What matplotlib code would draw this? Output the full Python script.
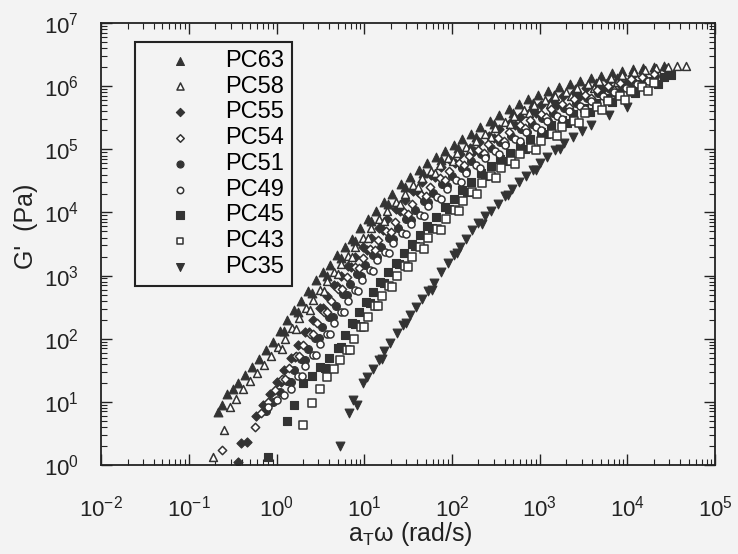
import numpy as np
import matplotlib
matplotlib.use('Agg')
import matplotlib.pyplot as plt
from matplotlib.ticker import LogLocator, NullFormatter, FixedLocator

plt.rcParams['font.family'] = ['Liberation Sans', 'DejaVu Sans']
plt.rcParams['mathtext.fontset'] = 'custom'
plt.rcParams['mathtext.rm'] = 'Liberation Sans'
plt.rcParams['mathtext.it'] = 'Liberation Sans'

# values, stored as log10(a_T w) and log10(G')
# second part of each list = the points of the overlapping sweeps sitting just under the main trace
pc63_lw = [-0.67, -0.62, -0.57, -0.5, -0.44, -0.36, -0.28, -0.2, -0.12, -0.04, 0.04, 0.12, 0.2, 0.28,
           0.36, 0.45, 0.53, 0.61, 0.69, 0.78, 0.86, 0.95, 1.04, 1.13, 1.22, 1.32, 1.42, 1.52, 1.62,
           1.72, 1.82, 1.92, 2.02, 2.12, 2.22, 2.32, 2.43, 2.54, 2.65, 2.76, 2.87, 2.98, 3.1, 3.22,
           3.34, 3.46, 3.58, 3.7, 3.82, 3.94, 4.06, 4.18, 4.3, 4.42,
           0.08, 0.24, 0.4, 0.57, 0.73, 0.9, 1.08, 1.27, 1.47, 1.67, 1.87, 2.07, 2.27, 2.48, 2.7,
           2.92, 3.16, 3.4, 3.64, 3.88]
pc63_lg = [0.84, 0.95, 1.12, 1.2, 1.3, 1.42, 1.55, 1.68, 1.82, 1.95, 2.12, 2.3, 2.45, 2.6,
           2.75, 2.93, 3.05, 3.17, 3.32, 3.46, 3.58, 3.75, 3.9, 4.03, 4.16, 4.3, 4.45, 4.57, 4.68,
           4.78, 4.88, 4.98, 5.07, 5.16, 5.25, 5.35, 5.45, 5.55, 5.64, 5.72, 5.8, 5.87, 5.93, 5.99,
           6.04, 6.08, 6.13, 6.17, 6.21, 6.24, 6.27, 6.29, 6.31, 6.33,
           2.12, 2.43, 2.73, 3.0, 3.28, 3.55, 3.86, 4.13, 4.41, 4.63, 4.83, 5.02, 5.2, 5.4, 5.58,
           5.74, 5.86, 5.96, 6.05, 6.13]

pc58_lw = [-0.72, -0.6, -0.53, -0.46, -0.38, -0.3, -0.22, -0.14, -0.06, 0.02, 0.1, 0.18, 0.26, 0.34,
           0.42, 0.5, 0.58, 0.66, 0.74, 0.82, 0.9, 0.99, 1.08, 1.17, 1.26, 1.36, 1.46, 1.56, 1.66,
           1.76, 1.86, 1.96, 2.06, 2.16, 2.27, 2.38, 2.49, 2.6, 2.71, 2.82, 2.94, 3.06, 3.18, 3.3,
           3.42, 3.55, 3.68, 3.81, 3.94, 4.07, 4.2, 4.33, 4.46, 4.57, 4.67,
           0.06, 0.22, 0.38, 0.54, 0.7, 0.86, 1.04, 1.22, 1.41, 1.61, 1.81, 2.01, 2.21, 2.44, 2.66,
           2.88, 3.12, 3.36, 3.62, 3.88]
pc58_lg = [0.12, 0.55, 0.92, 1.05, 1.2, 1.33, 1.45, 1.58, 1.72, 1.86, 2.0, 2.17, 2.33, 2.48,
           2.62, 2.77, 2.92, 3.05, 3.18, 3.31, 3.45, 3.6, 3.75, 3.89, 4.02, 4.16, 4.3, 4.43, 4.55,
           4.66, 4.76, 4.86, 4.95, 5.04, 5.14, 5.24, 5.34, 5.44, 5.53, 5.62, 5.7, 5.78, 5.85, 5.91,
           5.97, 6.03, 6.08, 6.13, 6.18, 6.22, 6.26, 6.29, 6.31, 6.32, 6.33,
           1.84, 2.16, 2.46, 2.76, 3.03, 3.29, 3.59, 3.87, 4.14, 4.4, 4.62, 4.81, 4.99, 5.2, 5.4,
           5.57, 5.72, 5.85, 5.97, 6.07]

pc55_lw = [-0.44, -0.4, -0.34, -0.23, -0.15, -0.07, 0.01, 0.09, 0.17, 0.25, 0.33, 0.41, 0.49, 0.57,
           0.65, 0.73, 0.81, 0.9, 0.99, 1.08, 1.17, 1.26, 1.36, 1.46, 1.56, 1.66, 1.76, 1.87, 1.98,
           2.09, 2.2, 2.31, 2.42, 2.54, 2.66, 2.78, 2.9, 3.02, 3.14, 3.27, 3.4, 3.53, 3.66, 3.79,
           3.92, 4.05, 4.18, 4.31, 4.44,
           0.05, 0.21, 0.37, 0.53, 0.69, 0.85, 1.03, 1.21, 1.41, 1.61, 1.81, 2.03, 2.25, 2.48, 2.72,
           2.96, 3.2, 3.46, 3.72, 3.98]
pc55_lg = [0.04, 0.34, 0.36, 0.77, 0.95, 1.13, 1.32, 1.5, 1.7, 1.9, 2.1, 2.3, 2.48, 2.67,
           2.85, 3.0, 3.15, 3.3, 3.45, 3.6, 3.75, 3.9, 4.05, 4.2, 4.34, 4.48, 4.6, 4.72, 4.83,
           4.93, 5.02, 5.12, 5.22, 5.32, 5.42, 5.52, 5.61, 5.7, 5.77, 5.84, 5.91, 5.97, 6.03, 6.08,
           6.13, 6.17, 6.21, 6.24, 6.27,
           1.32, 1.71, 2.11, 2.49, 2.84, 3.13, 3.41, 3.73, 4.03, 4.32, 4.57, 4.78, 4.97, 5.18, 5.38,
           5.57, 5.71, 5.85, 5.96, 6.06]

pc54_lw = [-0.62, -0.25, -0.18, -0.1, -0.02, 0.06, 0.14, 0.22, 0.3, 0.38, 0.46, 0.54, 0.62, 0.7,
           0.8, 0.89, 0.98, 1.07, 1.16, 1.25, 1.35, 1.45, 1.55, 1.65, 1.75, 1.86, 1.97, 2.08, 2.19,
           2.3, 2.41, 2.53, 2.65, 2.77, 2.89, 3.01, 3.13, 3.26, 3.39, 3.52, 3.65, 3.78, 3.91, 4.04,
           4.17, 4.3,
           0.1, 0.26, 0.42, 0.58, 0.75, 0.94, 1.12, 1.3, 1.5, 1.7, 1.92, 2.14, 2.36, 2.59, 2.83,
           3.07, 3.33, 3.59, 3.85, 4.1]
pc54_lg = [0.23, 0.6, 0.82, 1.0, 1.18, 1.36, 1.54, 1.72, 1.9, 2.08, 2.25, 2.42, 2.6, 2.78,
           2.98, 3.13, 3.28, 3.42, 3.56, 3.7, 3.85, 4.0, 4.14, 4.28, 4.41, 4.54, 4.66, 4.78, 4.89,
           4.99, 5.08, 5.18, 5.28, 5.38, 5.47, 5.56, 5.64, 5.72, 5.8, 5.87, 5.94, 6.0, 6.06, 6.11,
           6.15, 6.19,
           1.36, 1.72, 2.08, 2.42, 2.79, 3.12, 3.41, 3.69, 3.98, 4.26, 4.51, 4.75, 4.95, 5.14, 5.34,
           5.51, 5.67, 5.82, 5.94, 6.04]

pc51_lw = [-0.12, -0.04, 0.04, 0.12, 0.2, 0.28, 0.36, 0.44, 0.52, 0.6, 0.68, 0.76, 0.84, 0.92,
           1.01, 1.1, 1.19, 1.28, 1.38, 1.48, 1.58, 1.68, 1.78, 1.89, 2.0, 2.11, 2.22, 2.33, 2.44,
           2.55, 2.67, 2.79, 2.91, 3.03, 3.15, 3.28, 3.41, 3.54, 3.67, 3.8, 3.93, 4.06, 4.19, 4.32,
           0.16, 0.32, 0.48, 0.64, 0.8, 0.96, 1.14, 1.33, 1.53, 1.73, 1.94, 2.16, 2.38, 2.61, 2.85,
           3.09, 3.34, 3.6, 3.86, 4.12]
pc51_lg = [0.85, 1.0, 1.16, 1.33, 1.5, 1.67, 1.84, 2.01, 2.18, 2.35, 2.52, 2.7, 2.87, 3.02,
           3.17, 3.32, 3.46, 3.6, 3.75, 3.9, 4.04, 4.18, 4.31, 4.45, 4.58, 4.7, 4.82, 4.93, 5.03,
           5.12, 5.22, 5.32, 5.41, 5.5, 5.58, 5.66, 5.74, 5.82, 5.89, 5.96, 6.02, 6.07, 6.12, 6.16,
           1.32, 1.66, 2.01, 2.35, 2.69, 3.0, 3.29, 3.58, 3.88, 4.16, 4.42, 4.66, 4.89, 5.08, 5.27,
           5.45, 5.61, 5.76, 5.9, 6.0]

pc49_lw = [-0.1, 0.0, 0.08, 0.17, 0.25, 0.33, 0.41, 0.49, 0.57, 0.65, 0.73, 0.81, 0.89, 0.97,
           1.06, 1.15, 1.24, 1.33, 1.43, 1.53, 1.63, 1.73, 1.83, 1.94, 2.05, 2.16, 2.27, 2.38, 2.49,
           2.6, 2.72, 2.84, 2.96, 3.08, 3.2, 3.33, 3.46, 3.59, 3.72, 3.85, 3.98, 4.11, 4.24,
           0.29, 0.45, 0.61, 0.77, 0.93, 1.1, 1.28, 1.48, 1.68, 1.88, 2.1, 2.32, 2.54, 2.78, 3.02,
           3.26, 3.52, 3.78, 4.04]
pc49_lg = [0.92, 1.02, 1.1, 1.2, 1.4, 1.57, 1.74, 1.91, 2.08, 2.25, 2.42, 2.6, 2.77, 2.93,
           3.09, 3.24, 3.38, 3.52, 3.67, 3.82, 3.96, 4.1, 4.24, 4.38, 4.51, 4.63, 4.75, 4.86, 4.97,
           5.07, 5.17, 5.27, 5.36, 5.45, 5.53, 5.61, 5.69, 5.77, 5.84, 5.91, 5.97, 6.03, 6.08,
           1.4, 1.74, 2.08, 2.42, 2.76, 3.08, 3.35, 3.66, 3.94, 4.22, 4.48, 4.71, 4.92, 5.13, 5.31,
           5.48, 5.64, 5.78, 5.91]

pc45_lw = [-0.1, 0.12, 0.2, 0.3, 0.4, 0.5, 0.6, 0.7, 0.78, 0.86, 0.94, 1.02, 1.1, 1.18,
           1.27, 1.36, 1.45, 1.54, 1.63, 1.72, 1.82, 1.92, 2.02, 2.12, 2.22, 2.33, 2.44, 2.55, 2.66,
           2.77, 2.89, 3.01, 3.13, 3.25, 3.38, 3.51, 3.64, 3.77, 3.9, 4.03, 4.16, 4.29, 4.42, 4.5,
           0.55, 0.74, 0.9, 1.06, 1.22, 1.4, 1.58, 1.77, 1.97, 2.17, 2.38, 2.6, 2.83, 3.07, 3.31,
           3.57, 3.83, 4.09, 4.35]
pc45_lg = [0.12, 0.7, 0.95, 1.3, 1.4, 1.55, 1.7, 1.85, 2.05, 2.25, 2.42, 2.58, 2.74, 2.9,
           3.05, 3.2, 3.35, 3.5, 3.64, 3.78, 3.93, 4.08, 4.22, 4.36, 4.49, 4.62, 4.74, 4.85, 4.95,
           5.05, 5.16, 5.28, 5.38, 5.47, 5.56, 5.65, 5.73, 5.81, 5.89, 5.96, 6.03, 6.09, 6.15, 6.18,
           1.53, 1.86, 2.24, 2.57, 2.88, 3.18, 3.47, 3.76, 4.06, 4.33, 4.58, 4.81, 5.01, 5.24, 5.42,
           5.6, 5.75, 5.9, 6.03]

pc43_lw = [0.3, 0.4, 0.5, 0.57, 0.65, 0.72, 0.8, 0.88, 0.96, 1.04, 1.12, 1.2, 1.28, 1.37,
           1.46, 1.55, 1.64, 1.73, 1.83, 1.93, 2.03, 2.13, 2.23, 2.34, 2.45, 2.56, 2.67, 2.78, 2.9,
           3.02, 3.14, 3.26, 3.39, 3.52, 3.65, 3.78, 3.91, 4.04, 4.17, 4.3,
           0.84, 1.0, 1.16, 1.32, 1.5, 1.68, 1.88, 2.08, 2.28, 2.5, 2.72, 2.96, 3.2, 3.45, 3.71,
           3.97, 4.23]
pc43_lg = [0.63, 0.98, 1.2, 1.39, 1.52, 1.66, 1.82, 2.0, 2.18, 2.35, 2.52, 2.68, 2.84, 3.0,
           3.15, 3.3, 3.45, 3.59, 3.74, 3.89, 4.04, 4.18, 4.32, 4.46, 4.58, 4.7, 4.81, 4.92, 5.03,
           5.14, 5.25, 5.35, 5.45, 5.58, 5.68, 5.76, 5.84, 5.92, 5.99, 6.05,
           1.82, 2.18, 2.51, 2.82, 3.13, 3.42, 3.72, 4.02, 4.3, 4.54, 4.77, 4.99, 5.21, 5.42, 5.63,
           5.79, 5.93]

pc35_lw = [0.72, 0.83, 0.87, 0.92, 0.98, 1.03, 1.1, 1.17, 1.23, 1.29, 1.37, 1.44, 1.52, 1.59,
           1.66, 1.73, 1.8, 1.88, 1.95, 2.02, 2.09, 2.16, 2.23, 2.3, 2.38, 2.45, 2.52, 2.6, 2.68,
           2.76, 2.84, 2.92, 3.0, 3.08, 3.18, 3.28, 3.38, 3.48, 3.59, 3.79, 4.0,
           1.2, 1.48, 1.77, 2.06, 2.34, 2.64, 2.96, 3.23]
pc35_lg = [0.3, 0.82, 1.02, 0.95, 1.29, 1.39, 1.52, 1.66, 1.8, 1.93, 2.09, 2.22, 2.37, 2.5,
           2.63, 2.75, 2.88, 3.06, 3.2, 3.33, 3.46, 3.58, 3.72, 3.83, 3.94, 4.03, 4.14, 4.26, 4.38,
           4.48, 4.58, 4.68, 4.78, 4.88, 4.99, 5.1, 5.2, 5.29, 5.38, 5.54, 5.68,
           1.68, 2.25, 2.77, 3.35, 3.82, 4.27, 4.68, 5.0]

x_ticks = [1e-2, 1e-1, 1e0, 1e1, 1e2, 1e3, 1e4, 1e5]
y_ticks = [1e0, 1e1, 1e2, 1e3, 1e4, 1e5, 1e6, 1e7]

ink = '#333333'
bg = '#f3f3f3'
series = [
    ('PC63', pc63_lw, pc63_lg, '^', True, 40),
    ('PC58', pc58_lw, pc58_lg, '^', False, 32),
    ('PC55', pc55_lw, pc55_lg, 'D', True, 22),
    ('PC54', pc54_lw, pc54_lg, 'D', False, 18),
    ('PC51', pc51_lw, pc51_lg, 'o', True, 32),
    ('PC49', pc49_lw, pc49_lg, 'o', False, 26),
    ('PC45', pc45_lw, pc45_lg, 's', True, 32),
    ('PC43', pc43_lw, pc43_lg, 's', False, 26),
    ('PC35', pc35_lw, pc35_lg, 'v', True, 40),
]

fig = plt.figure(figsize=(7.38, 5.54), dpi=100, facecolor=bg)
ax = fig.add_axes([0.137, 0.161, 0.832, 0.797])
ax.set_facecolor(bg)

for name, lw, lg, mk, filled, sz in series:
    x = np.power(10.0, lw)
    y = np.power(10.0, lg)
    if filled:
        ax.scatter(x, y, s=sz, marker=mk, c=ink, edgecolors=ink, linewidths=0.8,
                   label=name, zorder=2)
    else:
        ax.scatter(x, y, s=sz, marker=mk, facecolors='white', edgecolors=ink, linewidths=1.1,
                   label=name, zorder=3)

ax.set_xscale('log')
ax.set_yscale('log')
ax.set_xlim(1e-2, 1e5)
ax.set_ylim(1e0, 1e7)

ax.xaxis.set_major_locator(FixedLocator(x_ticks))
ax.yaxis.set_major_locator(FixedLocator(y_ticks))
for a in (ax.xaxis, ax.yaxis):
    a.set_minor_locator(LogLocator(base=10, subs=np.arange(2, 10), numticks=10))
    a.set_minor_formatter(NullFormatter())

ax.tick_params(which='both', direction='in', top=True, right=True, colors='#222222')
ax.tick_params(which='major', length=8, width=1.0, labelsize=16)
ax.tick_params(which='minor', length=4, width=0.8)
ax.tick_params(axis='x', which='major', pad=22)
ax.tick_params(axis='y', which='major', pad=16)
for sp in ax.spines.values():
    sp.set_linewidth(1.3)
    sp.set_color('#222222')

ax.set_xlabel(r'a$_\mathrm{T}$ω (rad/s)', fontsize=18, color='#222222')
ax.set_ylabel("G'  (Pa)", fontsize=18, color='#222222')
ax.xaxis.set_label_coords(0.503, -0.125)
ax.yaxis.set_label_coords(-0.103, 0.54)

leg = ax.legend(loc='upper left', bbox_to_anchor=(0.055, 0.957), fontsize=17, frameon=True,
                fancybox=False, edgecolor='#222222', facecolor=bg, framealpha=1,
                labelspacing=0.16, handletextpad=0.3, borderpad=0.32, markerscale=0.9,
                handlelength=3.2, borderaxespad=0)
leg.get_frame().set_linewidth(1.5)

fig.savefig('out.png', dpi=100, facecolor=fig.get_facecolor())
